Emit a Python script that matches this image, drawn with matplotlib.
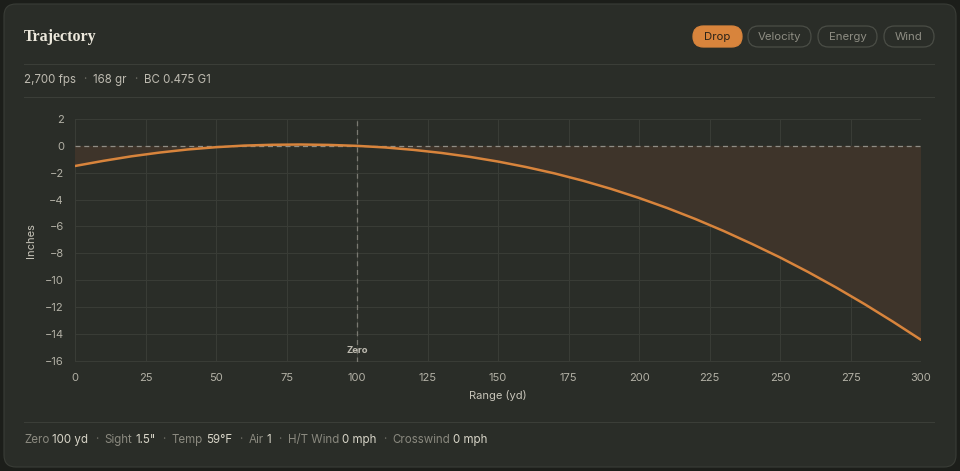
import matplotlib.pyplot as plt
from matplotlib.patches import FancyBboxPatch
import numpy as np

# trajectory (inches vs yards)
range_yd = [0, 10, 20, 30, 40, 50, 60, 70, 80, 90, 100, 110, 120, 130, 140, 150,
            160, 170, 180, 190, 200, 210, 220, 230, 240, 250, 260, 270, 280, 290, 300]
drop_in = [-1.50, -1.12, -0.78, -0.50, -0.27, -0.10, 0.02, 0.08, 0.10, 0.07, 0.00,
           -0.12, -0.30, -0.53, -0.82, -1.17, -1.58, -2.05, -2.59, -3.20, -3.88,
           -4.63, -5.45, -6.34, -7.30, -8.31, -9.40, -10.56, -11.79, -13.09, -14.45]
x_ticks = [0, 25, 50, 75, 100, 125, 150, 175, 200, 225, 250, 275, 300]
y_ticks = [2, 0, -2, -4, -6, -8, -10, -12, -14, -16]
zero_range = 100
tabs = ['Drop', 'Velocity', 'Energy', 'Wind']
sub_items = ['2,700 fps', '168 gr', 'BC 0.475 G1']
footer_items = [('Zero', '100 yd'), ('Sight', '1.5"'), ('Temp', '59°F'),
                ('Air', '1'), ('H/T Wind', '0 mph'), ('Crosswind', '0 mph')]

W, H = 960, 471
outer = '#1c1e1a'
card = '#2a2d28'
orange = '#d8843c'
grid_c = '#393c36'
tick_c = '#b3b1a6'
dim_c = '#8a897f'
bright_c = '#d8d5c8'
plt.rcParams['font.family'] = ['Inter', 'DejaVu Sans']

fig = plt.figure(figsize=(W / 100, H / 100), dpi=100, facecolor=outer)
bg = fig.add_axes([0, 0, 1, 1])
bg.set_xlim(0, W)
bg.set_ylim(H, 0)
bg.axis('off')
bg.add_patch(FancyBboxPatch((4, 4), 952, 463, boxstyle='round,pad=0,rounding_size=12',
                            fc=card, ec='#3a3d37', lw=0.8))
for yy in (64, 97, 422):
    bg.plot([24, 934], [yy, yy], color='#3b3e38', lw=0.8)

bg.text(24, 37, 'Trajectory', family=['Liberation Serif', 'DejaVu Serif'], fontweight='bold',
        fontsize=11.5, color='#ece8dc', va='center', ha='left')

# tab chips
tab_box = [(693, 742), (748, 811), (818, 877), (884, 934)]
for name, (x0, x1) in zip(tabs, tab_box):
    active = name == 'Drop'
    bg.add_patch(FancyBboxPatch((x0, 26), x1 - x0, 21, boxstyle='round,pad=0,rounding_size=10.5',
                                fc=orange if active else 'none',
                                ec=orange if active else '#4a4d46', lw=0.9))
    bg.text((x0 + x1) / 2, 37, name, fontsize=8.2, ha='center', va='center',
            color='#2a2218' if active else '#8e8d83')

renderer = fig.canvas.get_renderer()


def run_text(x, y, pieces, size):
    # draw pieces left to right, measuring each one
    for txt, col, gap in pieces:
        t = bg.text(x, y, txt, fontsize=size, color=col, va='center', ha='left')
        bb = t.get_window_extent(renderer)
        x += bb.width + gap


sub = []
for i, s in enumerate(sub_items):
    sub.append((s, '#bdbab0', 7))
    if i < len(sub_items) - 1:
        sub.append(('·', '#6a6a62', 7))
run_text(24, 80, sub, 8.3)

foot = []
for i, (lab, val) in enumerate(footer_items):
    foot.append((lab, dim_c, 3))
    foot.append((val, bright_c, 6.5))
    if i < len(footer_items) - 1:
        foot.append(('·', '#6a6a62', 6.5))
run_text(24, 440, foot, 8.3)

# chart
ax = fig.add_axes([75 / W, 1 - 362 / H, (921 - 75) / W, (362 - 119) / H])
ax.set_facecolor('none')
x = np.array(range_yd)
y = np.array(drop_in)
ax.fill_between(x, y, 0, where=y <= 0.001, interpolate=True, color='#3e342a', lw=0, zorder=1)
ax.plot(x, y, color=orange, lw=1.8, zorder=4, solid_capstyle='round')
ax.axhline(0, color='#8f8d85', lw=0.9, ls=(0, (4, 3)), zorder=3)
ax.axvline(zero_range, color='#7a7a72', lw=0.9, ls=(0, (4, 3)), zorder=3)
ax.text(zero_range, -15.25, 'Zero', fontsize=6.8, fontweight='bold', color='#bdbab0',
        ha='center', va='center', zorder=5)

ax.set_xlim(0, 300)
ax.set_ylim(-16.1, 2)
ax.set_xticks(x_ticks)
ax.set_yticks(y_ticks)
ax.grid(True, color=grid_c, lw=0.8, zorder=0)
ax.set_axisbelow(True)
for sp in ax.spines.values():
    sp.set_visible(False)
ax.tick_params(length=0, labelsize=8, colors=tick_c, pad=8)
ax.set_xlabel('Range (yd)', fontsize=8, color='#c8c5ba', labelpad=5)
ax.set_ylabel('Inches', fontsize=8, color='#c8c5ba', labelpad=6)

fig.savefig('out.png', dpi=100, facecolor=outer)
